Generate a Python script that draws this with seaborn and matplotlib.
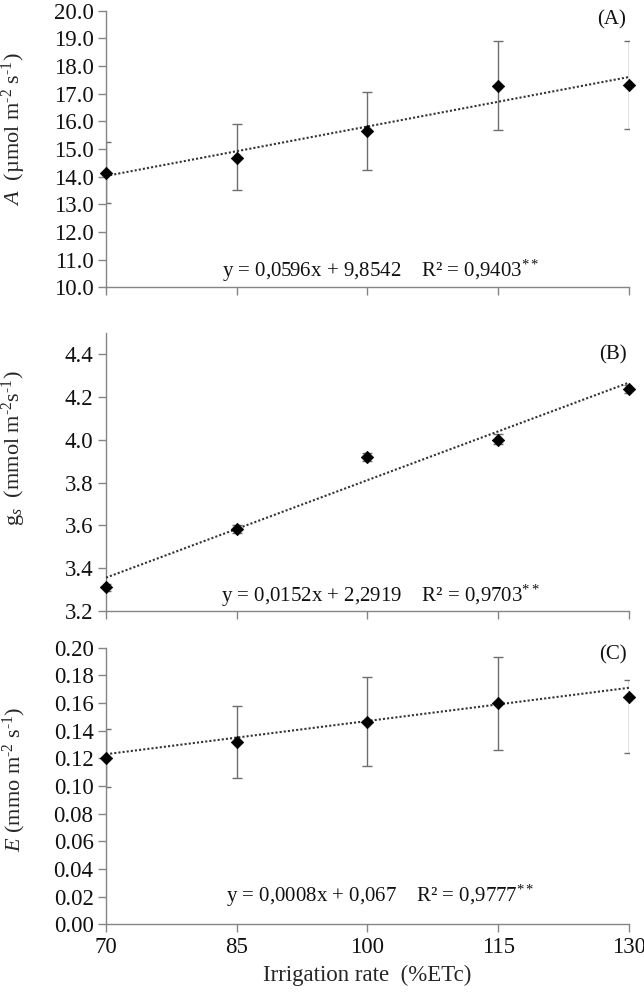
import numpy as np
import pandas as pd
import matplotlib
matplotlib.use("Agg")
import matplotlib.pyplot as plt
import seaborn as sns

# ---------------- data ----------------
irrigation = [70, 85, 100, 115, 130]

A_mean = [14.15, 14.68, 15.64, 17.29, 17.32]
A_err_low = [1.12, 1.18, 1.41, 1.59, 1.58]
A_err_high = [1.12, 1.24, 1.41, 1.60, 1.57]

gs_mean = [3.31, 3.585, 3.92, 4.00, 4.238]
gs_err_low = [0.015, 0.018, 0.02, 0.02, 0.02]
gs_err_high = [0.015, 0.018, 0.02, 0.027, 0.02]

E_mean = [0.120, 0.132, 0.1466, 0.160, 0.1647]
E_err_low = [0.021, 0.026, 0.032, 0.034, 0.041]
E_err_high = [0.021, 0.026, 0.032, 0.033, 0.012]

A_fit = (0.0596, 9.8542)
gs_fit = (0.0152, 2.2919)
E_fit = (0.0008, 0.067)

A_eq = "y = 0,0596x + 9,8542    R² = 0,9403$^{**}$"
gs_eq = "y = 0,0152x + 2,2919    R² = 0,9703$^{**}$"
E_eq = "y = 0,0008x + 0,067    R² = 0,9777$^{**}$"

x_ticks = [70, 85, 100, 115, 130]
A_ticks = [10, 11, 12, 13, 14, 15, 16, 17, 18, 19, 20]
gs_ticks = [3.2, 3.4, 3.6, 3.8, 4.0, 4.2, 4.4]
E_ticks = [0.00, 0.02, 0.04, 0.06, 0.08, 0.10, 0.12, 0.14, 0.16, 0.18, 0.20]

# ---------------- style ----------------
sns.set_style("ticks")
plt.rcParams['font.family'] = ['Liberation Serif', 'DejaVu Serif']
plt.rcParams['mathtext.fontset'] = 'custom'
plt.rcParams['mathtext.rm'] = 'Liberation Serif'
plt.rcParams['mathtext.it'] = 'Liberation Serif:italic'
plt.rcParams['mathtext.bf'] = 'Liberation Serif:bold'

spine_c = "#858585"
fs_tick = 16.5
fs_eq = 15
fs_lab = 16

fig = plt.figure(figsize=(6.44, 10), dpi=100)
left, width = 0.1646, 0.812
axA = fig.add_axes([left, 0.7127, width, 0.2766])
axB = fig.add_axes([left, 0.389, width, 0.278])
axC = fig.add_axes([left, 0.0757, width, 0.2766])

panels = [
    (axA, A_mean, A_err_low, A_err_high, A_fit, A_eq, A_ticks, (10, 20), "%.1f",
     r"$\mathit{A}$  (µmol m$^{\mathrm{‐2}}$ s$^{\mathrm{‐1}}$)", "(A)", 0.012, 1.0, 0.57),
    (axB, gs_mean, gs_err_low, gs_err_high, gs_fit, gs_eq, gs_ticks, (3.2, 4.5), "%.1f",
     r"g$_{s}$  (mmol m$^{\mathrm{‐2}}$s$^{\mathrm{‐1}}$)", "(B)", 0.008, 0.955, 0.586),
    (axC, E_mean, E_err_low, E_err_high, E_fit, E_eq, E_ticks, (0, 0.2), "%.2f",
     r"$\mathit{E}$ (mmo m$^{\mathrm{‐2}}$ s$^{\mathrm{‐1}}$)", "(C)", 0.055, 1.01, 0.525),
]

for ax, mean, elo, ehi, fit, eq, yt, ylim, fmt, ylab, tag, eq_y, tag_y, lab_y in panels:
    df = pd.DataFrame({"x": irrigation, "y": mean})
    ax.errorbar(irrigation, mean, yerr=[elo, ehi], fmt="none", ecolor="#6e6e6e",
                elinewidth=1.0, capsize=3.5, capthick=1.0, zorder=2)
    xs = np.array([x_ticks[0], x_ticks[-1]], dtype=float)
    fit_df = pd.DataFrame({"x": xs, "y": fit[0] * xs + fit[1]})
    sns.lineplot(data=fit_df, x="x", y="y", ax=ax, color="#333333",
                 linestyle=(0, (1, 1)), linewidth=1.5, zorder=3)
    sns.scatterplot(data=df, x="x", y="y", ax=ax, marker="D", s=40, color="black",
                    edgecolor="black", linewidth=0.5, zorder=4, clip_on=False)
    ax.set_xlim(70, 130)
    ax.set_ylim(*ylim)
    ax.set_xticks(x_ticks)
    ax.set_yticks(yt)
    ax.yaxis.set_major_formatter(matplotlib.ticker.FormatStrFormatter(fmt))
    for s in ["top", "right"]:
        ax.spines[s].set_visible(False)
    for s in ["left", "bottom"]:
        ax.spines[s].set_color(spine_c)
        ax.spines[s].set_linewidth(1.0)
    ax.tick_params(axis="both", direction="out", length=6, width=1.0,
                   color=spine_c, labelsize=fs_tick, labelcolor="#111111", pad=3)
    ax.set_ylabel(ylab, fontsize=fs_lab)
    ax.set_xlabel("")
    ax.yaxis.set_label_coords(-0.149, lab_y)
    ax.text(0.525, eq_y, eq, transform=ax.transAxes, ha="center", va="bottom",
            fontsize=fs_eq, color="#111111")
    ax.text(0.995, tag_y, tag, transform=ax.transAxes, ha="right", va="top",
            fontsize=fs_eq, color="#111111")

axA.tick_params(axis="x", labelbottom=False)
axB.tick_params(axis="x", labelbottom=False)
axC.set_xlabel("Irrigation rate  (%ETc)", fontsize=fs_tick, labelpad=5)

fig.savefig("out.png", dpi=100)
